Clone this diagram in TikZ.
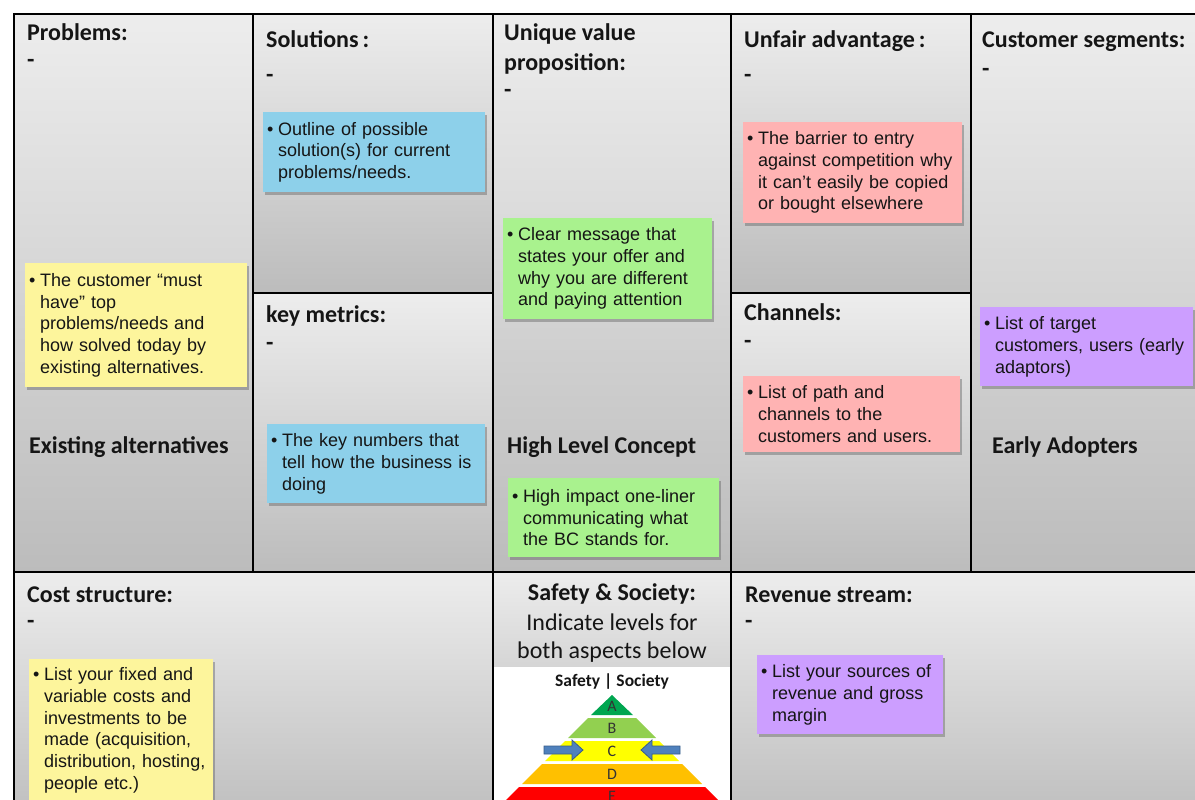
\documentclass[tikz,border=0pt]{standalone}
\usepackage{fontspec}
\setmainfont{Carlito}
\newfontfamily\notefont{Liberation Sans}
\usetikzlibrary{shadows}
\definecolor{celltop}{HTML}{EDEDED}
\definecolor{cellbot}{HTML}{BCBCBC}
\definecolor{cellmid}{HTML}{D5D5D5}
\definecolor{noteyellow}{HTML}{FDF59C}
\definecolor{noteblue}{HTML}{8DD0EA}
\definecolor{notegreen}{HTML}{A9F28E}
\definecolor{notepink}{HTML}{FFB3B3}
\definecolor{notepurple}{HTML}{CC9EFF}
\definecolor{pyrA}{HTML}{00A650}
\definecolor{pyrB}{HTML}{92D050}
\definecolor{pyrC}{HTML}{FFFF00}
\definecolor{pyrD}{HTML}{FFC000}
\definecolor{pyrE}{HTML}{FF0000}
\definecolor{arrowfill}{HTML}{4F81BD}
\definecolor{arrowline}{HTML}{385D8A}
\definecolor{inktext}{HTML}{151515}
\newcommand{\bu}{\makebox[11pt][l]{•}}
\newcommand{\hi}{\hspace*{11pt}}
\tikzset{
  cell/.style={top color=celltop, bottom color=cellbot, draw=none},
  cellshort/.style={top color=celltop, bottom color=cellmid, draw=none},
  gridline/.style={draw=black, line width=1.8pt},
  head/.style={font=\fontsize{24}{28}\selectfont\bfseries, text=inktext, anchor=base west, inner sep=0pt},
  headc/.style={font=\fontsize{24}{28}\selectfont\bfseries, text=inktext, anchor=base, inner sep=0pt},
  plainc/.style={font=\fontsize{24}{28}\selectfont, text=inktext, anchor=base, inner sep=0pt},
  note/.style={anchor=north west, inner xsep=4pt, inner ysep=0pt, align=left,
    font=\notefont\fontsize{18}{21.7}\selectfont, text=inktext,
    drop shadow={shadow xshift=2pt, shadow yshift=-2.5pt, opacity=0.45, fill=black!60}},
  pyrletter/.style={font=\fontsize{16}{18}\selectfont, text=black!80, inner sep=0pt},
  blockarrow/.style={fill=arrowfill, draw=arrowline, line width=0.8pt}
}
\begin{document}
\begin{tikzpicture}[x=1pt,y=-1pt]
\useasboundingbox (0,0) rectangle (1195,800);
\fill[white] (0,0) rectangle (1195,800);
% cell backgrounds
\shade[cell] (14,14) rectangle (253,572);
\shade[cell] (253,14) rectangle (493,293);
\shade[cell] (253,293) rectangle (493,572);
\shade[cell] (493,14) rectangle (731,572);
\shade[cell] (731,14) rectangle (971,293);
\shade[cell] (731,293) rectangle (971,572);
\shade[cell] (971,14) rectangle (1197,572);
\shade[cell] (14,572) rectangle (493,830);
\shade[cellshort] (493,572) rectangle (731,667);
\fill[white] (493,667) rectangle (731,805);
\shade[cell] (731,572) rectangle (1197,830);
% grid lines
\draw[gridline] (14,14) rectangle (1197,805);
\draw[gridline] (253,14) -- (253,572);
\draw[gridline] (493,14) -- (493,805);
\draw[gridline] (731,14) -- (731,805);
\draw[gridline] (971,14) -- (971,572);
\draw[gridline] (14,572) -- (1197,572);
\draw[gridline] (253,293) -- (493,293);
\draw[gridline] (731,293) -- (971,293);
% headings
\node[head] (hprob) at (27,41) {Problems:};
\node[head] (dprob) at (27,67) {-};
\node[head] (hsol) at (266,48) {Solutions\,:};
\node[head] (dsol) at (266,83) {-};
\node[head] (huvp1) at (504,41) {Unique value};
\node[head] (huvp2) at (504,71) {proposition:};
\node[head] (duvp) at (504,98) {-};
\node[head] (hunf) at (744,48) {Unfair advantage\,:};
\node[head] (dunf) at (744,83) {-};
\node[head] (hcus) at (982,48) {Customer segments:};
\node[head] (dcus) at (982,77) {-};
\node[head] (hkey) at (266,322) {key metrics:};
\node[head] (dkey) at (266,350) {-};
\node[head] (hcha) at (744,320) {Channels:};
\node[head] (dcha) at (744,348) {-};
\node[head] (hexi) at (29,453) {Existing alternatives};
\node[head] (hhlc) at (507,453) {High Level Concept};
\node[head] (hear) at (992,453) {Early Adopters};
\node[head] (hcost) at (27,602) {Cost structure:};
\node[head] (dcost) at (27,628) {-};
\node[head] (hrev) at (745,602) {Revenue stream:};
\node[head] (drev) at (745,628) {-};
\node[headc] (hsaf) at (612,600) {Safety \& Society:};
\node[plainc] (hsaf2) at (612,630) {Indicate levels for};
\node[plainc] (hsaf3) at (612,658) {both aspects below};
\node[font=\fontsize{17.5}{20}\selectfont\bfseries, text=inktext, anchor=base, inner sep=0pt] (pyrtitle) at (612,686) {Safety | Society};
% sticky notes
\node[note, fill=noteyellow, text width=214pt, minimum height=124pt] (nprob) at (25,263)
  {\bu The customer “must\\\hi have” top\\\hi problems/needs and\\\hi how solved today by\\\hi existing alternatives.};
\node[note, fill=noteblue, text width=214pt, minimum height=80pt] (nsol) at (263,112)
  {\bu Outline of possible\\\hi solution(s) for current\\\hi problems/needs.};
\node[note, fill=noteblue, text width=210pt, minimum height=79pt] (nkey) at (267,424)
  {\bu The key numbers that\\\hi tell how the business is\\\hi doing};
\node[note, fill=notegreen, text width=201pt, minimum height=101pt] (nuvp) at (503,218)
  {\bu Clear message that\\\hi states your offer and\\\hi why you are different\\\hi and paying attention};
\node[note, fill=notegreen, text width=203pt, minimum height=79pt] (nhlc) at (508,478)
  {\bu High impact one-liner\\\hi communicating what\\\hi the BC stands for.};
\node[note, fill=notepink, text width=211pt, minimum height=101pt] (nunf) at (743,122)
  {\bu The barrier to entry\\\hi against competition why\\\hi it can’t easily be copied\\\hi or bought elsewhere};
\node[note, fill=notepink, text width=209pt, minimum height=76pt] (ncha) at (743,376)
  {\bu List of path and\\\hi channels to the\\\hi customers and users.};
\node[note, fill=notepurple, text width=205pt, minimum height=79pt] (ncus) at (980,307)
  {\bu List of target\\\hi customers, users (early\\\hi adaptors)};
\node[note, fill=noteyellow, text width=176pt, minimum height=142pt] (ncost) at (29,659)
  {\bu List your fixed and\\\hi variable costs and\\\hi investments to be\\\hi made (acquisition,\\\hi distribution, hosting,\\\hi people etc.)};
\node[note, fill=notepurple, text width=178pt, minimum height=79pt] (nrev) at (757,655)
  {\bu List your sources of\\\hi revenue and gross\\\hi margin};
% pyramid
\fill[pyrA] (612,695) -- (633,715) -- (591,715) -- cycle;
\fill[pyrB] (588,718) -- (636,718) -- (656,738) -- (568,738) -- cycle;
\fill[pyrC] (565,741) -- (659,741) -- (679,761) -- (545,761) -- cycle;
\fill[pyrD] (542,764) -- (682,764) -- (702,784) -- (522,784) -- cycle;
\fill[pyrE] (519,787) -- (705,787) -- (733,815) -- (491,815) -- cycle;
\node[pyrletter] (lA) at (612,706) {A};
\node[pyrletter] (lB) at (612,728) {B};
\node[pyrletter] (lC) at (612,751) {C};
\node[pyrletter] (lD) at (612,774) {D};
\node[pyrletter] (lE) at (612,796) {E};
\draw[blockarrow] (544,746) -- (572,746) -- (572,740) -- (583,750) -- (572,760) -- (572,754) -- (544,754) -- cycle;
\draw[blockarrow] (680,746) -- (652,746) -- (652,740) -- (641,750) -- (652,760) -- (652,754) -- (680,754) -- cycle;
\end{tikzpicture}
\end{document}
